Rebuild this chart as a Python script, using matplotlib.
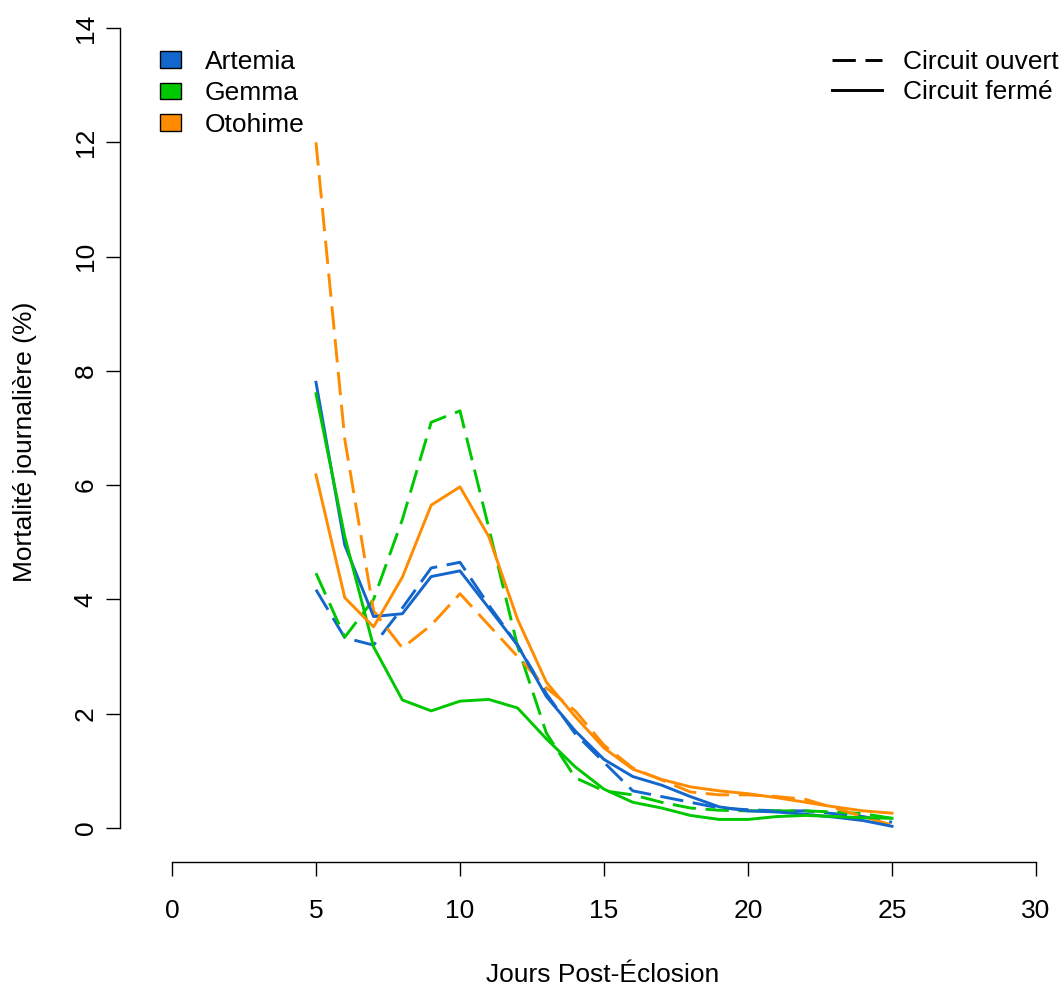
import matplotlib
matplotlib.use("Agg")
import matplotlib.pyplot as plt
from matplotlib.patches import Patch
from matplotlib.lines import Line2D

plt.rcParams['font.family'] = ['Liberation Sans', 'DejaVu Sans']

# jours post-eclosion
days = list(range(5, 26))

# mortalite journaliere (%) - circuit ferme (trait plein)
artemia_ferme = [7.8, 4.95, 3.7, 3.75, 4.4, 4.5, 3.85, 3.2, 2.3, 1.7, 1.2,
                 0.9, 0.75, 0.55, 0.37, 0.3, 0.28, 0.24, 0.19, 0.13, 0.03]
gemma_ferme = [7.6, 5.1, 3.17, 2.24, 2.05, 2.22, 2.25, 2.1, 1.56, 1.07, 0.68,
               0.45, 0.35, 0.22, 0.15, 0.15, 0.2, 0.22, 0.2, 0.18, 0.17]
otohime_ferme = [6.18, 4.03, 3.52, 4.39, 5.65, 5.97, 5.1, 3.65, 2.55, 1.95, 1.4,
                 1.03, 0.85, 0.72, 0.65, 0.6, 0.53, 0.45, 0.37, 0.3, 0.26]

# mortalite journaliere (%) - circuit ouvert (tirets)
artemia_ouvert = [4.17, 3.33, 3.2, 3.85, 4.55, 4.65, 3.9, 3.2, 2.35, 1.65, 1.15,
                  0.65, 0.55, 0.45, 0.35, 0.32, 0.3, 0.3, 0.25, 0.2, 0.1]
gemma_ouvert = [4.46, 3.34, 4.0, 5.4, 7.1, 7.3, 5.25, 3.18, 1.66, 0.88, 0.65,
                0.58, 0.45, 0.35, 0.31, 0.3, 0.3, 0.3, 0.28, 0.25, 0.17]
otohime_ouvert = [12.0, 6.8, 3.8, 3.15, 3.55, 4.1, 3.55, 3.0, 2.45, 2.05, 1.45,
                  1.05, 0.84, 0.63, 0.58, 0.58, 0.55, 0.5, 0.35, 0.2, 0.05]

aliments = ["Artemia", "Gemma", "Otohime"]
couleurs = ["#1266CC", "#00C800", "#FF8C00"]
circuits = ["Circuit ouvert", "Circuit fermé"]
x_ticks = [0, 5, 10, 15, 20, 25, 30]
y_ticks = [0, 2, 4, 6, 8, 10, 12, 14]

W, H = 1062, 990
TIRET = (0, (8, 3.3))
LW = 2.1
FS = 19


def main():
    fig = plt.figure(figsize=(W / 100, H / 100), dpi=100)
    ax = fig.add_axes([137.4 / W, 1 - 860 / H, 933.2 / W, 864 / H])
    ax.set_xlim(-1.2, 31.2)
    ax.set_ylim(-0.56, 14.56)

    fermes = [artemia_ferme, gemma_ferme, otohime_ferme]
    ouverts = [artemia_ouvert, gemma_ouvert, otohime_ouvert]
    for vals, col in zip(ouverts, couleurs):
        ax.plot(days, vals, color=col, lw=LW, linestyle=TIRET)
    for vals, col in zip(fermes, couleurs):
        ax.plot(days, vals, color=col, lw=LW)

    # axes facon R (bty="n")
    for s in ["top", "right"]:
        ax.spines[s].set_visible(False)
    ax.spines["left"].set_position(("outward", 12.5))
    ax.spines["bottom"].set_position(("outward", 1.4))
    ax.spines["left"].set_bounds(0, 14)
    ax.spines["bottom"].set_bounds(0, 30)
    ax.spines["left"].set_linewidth(1.0)
    ax.spines["bottom"].set_linewidth(1.0)
    ax.set_xticks(x_ticks)
    ax.set_yticks(y_ticks)
    ax.tick_params(axis="both", length=10, width=1.0, labelsize=FS)
    ax.tick_params(axis="x", pad=17)
    ax.tick_params(axis="y", pad=6)
    for lab in ax.get_yticklabels():
        lab.set_rotation(90)
        lab.set_va("center")

    fig.text(603 / W, 1 - 975 / H, "Jours Post-Éclosion", ha="center",
             va="center", fontsize=FS)
    fig.text(25 / W, 1 - 442 / H, "Mortalité journalière (%)", ha="center",
             va="center", rotation=90, fontsize=FS)

    h1 = [Patch(facecolor=c, edgecolor="black", lw=1.0) for c in couleurs]
    leg1 = ax.legend(h1, aliments, loc="upper left",
                     bbox_to_anchor=(160 / W, 1 - 50 / H),
                     bbox_transform=fig.transFigure, frameon=False,
                     fontsize=FS, handlelength=0.8, handleheight=0.6,
                     handletextpad=0.9, labelspacing=0.28, borderpad=0,
                     borderaxespad=0)
    ax.add_artist(leg1)

    h2 = [Line2D([0], [0], color="black", lw=LW, linestyle=TIRET),
          Line2D([0], [0], color="black", lw=LW)]
    ax.legend(h2, circuits, loc="upper left",
              bbox_to_anchor=(832 / W, 1 - 50 / H),
              bbox_transform=fig.transFigure, frameon=False, fontsize=FS,
              handlelength=1.9, handletextpad=0.8, labelspacing=0.24,
              borderpad=0, borderaxespad=0)

    fig.savefig("out.png", dpi=100)


if __name__ == "__main__":
    main()
